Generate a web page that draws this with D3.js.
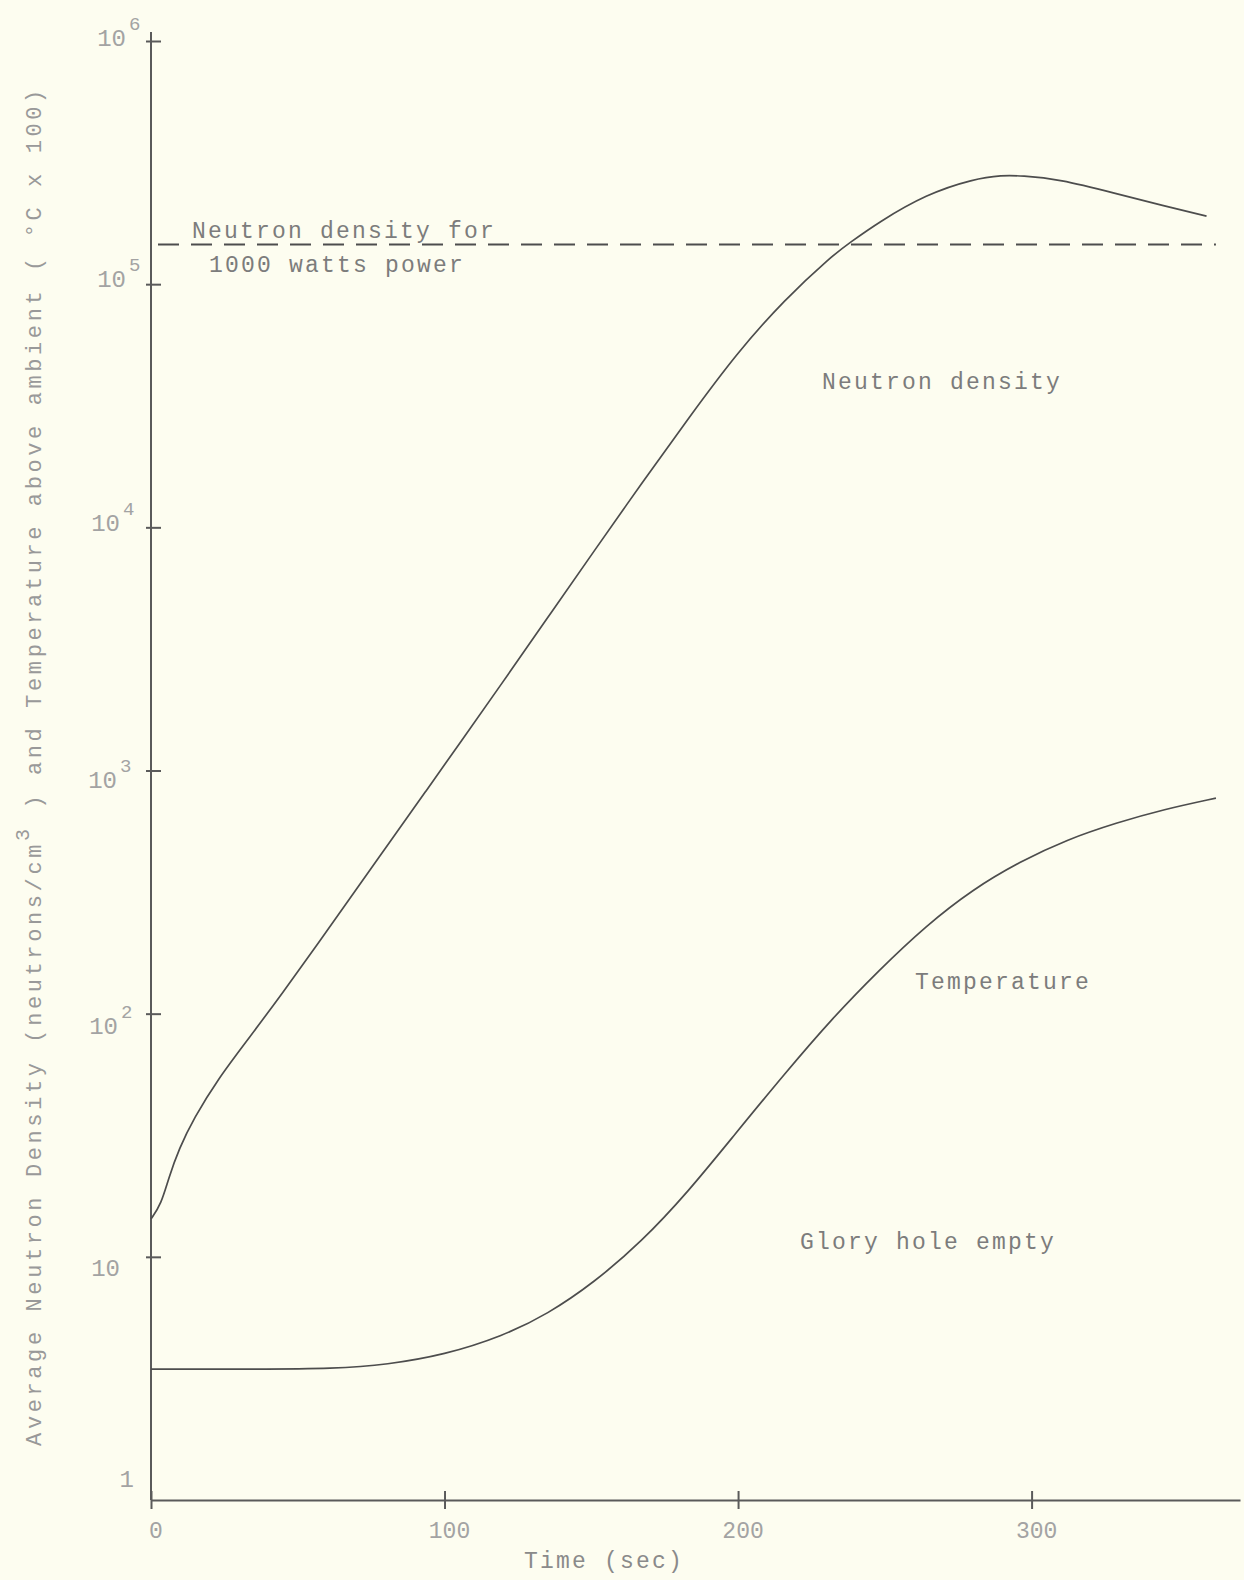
<!DOCTYPE html>
<html>
<head>
<meta charset="utf-8">
<script src="https://cdn.jsdelivr.net/npm/d3@7"></script>
<style>
body { margin: 0; background: #fdfdf0; }
svg { display: block; }
text { font-family: "Liberation Mono", "DejaVu Sans Mono", monospace; }
</style>
</head>
<body>
<svg id="chart" width="1244" height="1580"></svg>
<script>
/* --- Data: --- */
// neutron density curve (neutrons/cm^3)
var neutronTime = [0, 3.5, 6, 9.6, 14.5, 23, 32.7, 44.9, 57, 69.1, 81.3, 93.5, 105.6, 118.8, 134.9, 151.1, 167.1, 183.5, 199.5, 215.7, 231.8, 238, 247.9, 264.1, 280.3, 290, 296.4, 309.3, 328.7, 344.8, 359.6];
var neutronValue = [14.3, 16.5, 21.1, 27.9, 37, 54.3, 77.4, 122, 195, 314, 507, 817, 1318, 2213, 4217, 8035, 15140, 28510, 51880, 86100, 130300, 147900, 179900, 234400, 271000, 280500, 279300, 270400, 236000, 210400, 190500];

// temperature above ambient (degC x 100)
var tempTime = [0, 30, 64, 80, 100, 120, 135, 151, 167, 183, 199, 216, 232, 248, 264, 280, 296, 312, 329, 345, 362.8];
var tempValue = [3.45, 3.45, 3.47, 3.6, 3.95, 4.73, 5.8, 7.85, 11.5, 18.5, 32, 56.9, 95.5, 151, 230, 325, 422, 520, 610, 692, 770];

// reference level: neutron density for 1000 watts power
var powerLevel = 145600;
var powerLevelEnd = 362.8;

// ticks
var xTicks = [0, 100, 200, 300];
var yExponents = [0, 1, 2, 3, 4, 5, 6];

/* --- Layout & style: --- */
var ink = "#4d4d4d";
var axisInk = "#5a5a5a";
var typeInk = "#7c7c7c";
var tickInk = "#a3a3a3";

var svg = d3.select("#chart");

var x = d3.scaleLinear().domain([0, 371]).range([151, 1240]);
var y = d3.scaleLog().domain([1, 1e6]).range([1500, 41]);

/* --- Axes --- */
var xAxis = svg.append("g")
    .attr("transform", "translate(0," + y(1) + ")")
    .call(d3.axisBottom(x).tickValues(xTicks).tickSize(9).tickSizeOuter(0).tickFormat(""));
xAxis.select(".domain").attr("stroke", axisInk).attr("stroke-width", 2);
xAxis.selectAll(".tick line").attr("y1", -9).attr("y2", 9)
    .attr("stroke", axisInk).attr("stroke-width", 2);

svg.append("g").selectAll("text")
    .data(xTicks)
    .join("text")
    .attr("x", d => x(d) + 5)
    .attr("y", 1538)
    .attr("text-anchor", "middle")
    .attr("font-size", 23)
    .attr("fill", tickInk)
    .text(d => d);

var yAxis = svg.append("g")
    .attr("transform", "translate(" + x(0) + ",0)")
    .call(d3.axisLeft(y).tickValues(yExponents.map(e => Math.pow(10, e))).tickSize(5).tickSizeOuter(0).tickFormat(""));
yAxis.select(".domain").attr("d", "M0," + y(1) + "V32").attr("stroke", axisInk).attr("stroke-width", 2);
yAxis.selectAll(".tick line").attr("x1", -5).attr("x2", 10)
    .attr("stroke", axisInk).attr("stroke-width", 2);
yAxis.selectAll(".tick").filter(d => d === 1).select("line").remove();

// hand-typed labels sit a little off their ticks
var yLabelShift = {0: [8, -13], 1: [-6, 19], 2: [-8, 20], 3: [-9, 17], 4: [-6, 4], 5: [0, 3], 6: [0, 5]};

svg.append("g").selectAll("text")
    .data(yExponents)
    .join("text")
    .attr("font-size", 24)
    .attr("fill", tickInk)
    .attr("x", d => 126 + yLabelShift[d][0])
    .attr("y", d => y(Math.pow(10, d)) + yLabelShift[d][1])
    .attr("text-anchor", "end")
    .text(d => d === 0 ? "1" : "10");

svg.append("g").selectAll("text")
    .data(yExponents.filter(e => e > 1))
    .join("text")
    .attr("font-size", 19)
    .attr("fill", tickInk)
    .attr("x", d => 129 + yLabelShift[d][0])
    .attr("y", d => y(Math.pow(10, d)) + yLabelShift[d][1] - 16)
    .text(d => d);

/* --- Axis titles --- */
svg.append("text")
    .attr("x", 524)
    .attr("y", 1568)
    .attr("font-size", 23)
    .attr("letter-spacing", "2.2px")
    .attr("fill", "#8a8a8a")
    .text("Time (sec)");

var yTitle = svg.append("text")
    .attr("transform", "translate(41,766) rotate(-90)")
    .attr("text-anchor", "middle")
    .attr("font-size", 22)
    .attr("letter-spacing", "3.6px")
    .attr("fill", "#999999");
yTitle.append("tspan").text("Average Neutron Density (neutrons/cm");
yTitle.append("tspan").attr("dy", -12).attr("font-size", 20).text("3");
yTitle.append("tspan").attr("dy", 12).text(" ) and Temperature above ambient ( \u00B0C x 100)");

/* --- Reference power level --- */
svg.append("line")
    .attr("x1", 158)
    .attr("x2", x(powerLevelEnd))
    .attr("y1", y(powerLevel))
    .attr("y2", y(powerLevel))
    .attr("stroke", ink)
    .attr("stroke-width", 1.8)
    .attr("stroke-dasharray", "21,12");

/* --- Curves --- */
var line = d3.line()
    .x(d => x(d[0]))
    .y(d => y(d[1]))
    .curve(d3.curveBasis);

svg.append("path")
    .datum(d3.zip(neutronTime, neutronValue))
    .attr("fill", "none")
    .attr("stroke", ink)
    .attr("stroke-width", 1.7)
    .attr("d", line);

svg.append("path")
    .datum(d3.zip(tempTime, tempValue))
    .attr("fill", "none")
    .attr("stroke", ink)
    .attr("stroke-width", 1.7)
    .attr("d", line);

/* --- Typed annotations --- */
var notes = [
    {text: "Neutron density for", x: 192, y: 238},
    {text: "1000 watts power", x: 209, y: 272},
    {text: "Neutron density", x: 822, y: 389},
    {text: "Temperature", x: 915, y: 989},
    {text: "Glory hole empty", x: 800, y: 1249}
];
svg.append("g").selectAll("text")
    .data(notes)
    .join("text")
    .attr("x", d => d.x)
    .attr("y", d => d.y)
    .attr("font-size", 23)
    .attr("letter-spacing", "2.2px")
    .attr("fill", typeInk)
    .text(d => d.text);
</script>
</body>
</html>
